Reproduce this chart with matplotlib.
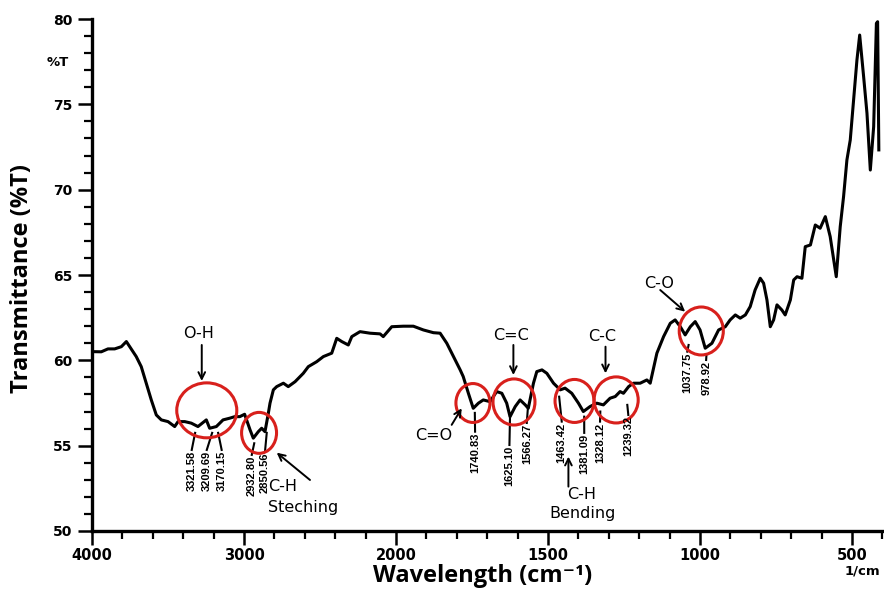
import numpy as np
import matplotlib
matplotlib.use('Agg')
import matplotlib.pyplot as plt
from matplotlib.patches import Ellipse
from matplotlib import font_manager

# FTIR spectrum (wavenumber in cm-1, %T)
wavenumber = [4000, 3939, 3895, 3851, 3807, 3774, 3752, 3709, 3676, 3643, 3610, 3577, 3544,
              3500, 3456, 3434, 3390, 3347, 3303, 3248, 3226, 3182, 3138, 3094, 3061, 3028,
              2996, 2960, 2939, 2906, 2884, 2862, 2840, 2829, 2807, 2785, 2741, 2709, 2664,
              2610, 2577, 2522, 2478, 2423, 2390, 2357, 2314, 2291, 2237, 2171, 2105, 2084,
              2028, 1976, 1943, 1910, 1877, 1855, 1833, 1811, 1789, 1779, 1762, 1746, 1729,
              1713, 1691, 1669, 1652, 1636, 1625, 1608, 1592, 1575, 1565, 1548, 1537, 1520,
              1504, 1482, 1460, 1444, 1422, 1400, 1384, 1362, 1340, 1318, 1296, 1279, 1263,
              1252, 1235, 1219, 1197, 1175, 1164, 1142, 1120, 1098, 1082, 1065, 1049, 1032,
              1016, 1000, 983, 961, 939, 917, 901, 884, 868, 851, 835, 819, 802, 791, 780,
              769, 758, 747, 731, 720, 703, 692, 681, 665, 654, 637, 621, 605, 588, 572, 552,
              539, 528, 517, 506, 495, 484, 475, 462, 451, 440, 429, 420, 416, 412]
transmittance = [60.51, 60.5, 60.67, 60.67, 60.8, 61.1, 60.8, 60.22, 59.63, 58.66, 57.68, 56.8,
                 56.51, 56.41, 56.12, 56.41, 56.41, 56.32, 56.12, 56.51, 56.02, 56.12, 56.51,
                 56.61, 56.7, 56.7, 56.84, 55.92, 55.44, 55.82, 56.02, 55.82, 56.9, 57.49, 58.27,
                 58.46, 58.66, 58.46, 58.75, 59.24, 59.63, 59.92, 60.22, 60.42, 61.29, 61.1,
                 60.9, 61.39, 61.68, 61.59, 61.55, 61.39, 61.97, 62.0, 62.0, 61.78, 61.62, 61.59,
                 61.0, 60.22, 59.44, 59.05, 58.07, 57.19, 57.49, 57.68, 57.58, 58.17, 58.07,
                 57.49, 56.7, 57.29, 57.68, 57.39, 57.19, 58.66, 59.34, 59.44, 59.24, 58.66,
                 58.27, 58.37, 58.07, 57.49, 57.0, 57.29, 57.49, 57.39, 57.78, 57.88, 58.17,
                 58.07, 58.46, 58.66, 58.66, 58.85, 58.66, 60.42, 61.39, 62.17, 62.37, 61.97,
                 61.49, 61.97, 62.27, 61.78, 60.71, 61.0, 61.78, 61.97, 62.37, 62.66, 62.47,
                 62.66, 63.15, 64.12, 64.81, 64.52, 63.54, 61.97, 62.37, 63.25, 62.95, 62.66,
                 63.54, 64.71, 64.9, 64.81, 66.66, 66.76, 67.93, 67.74, 68.42, 67.25, 64.9,
                 67.83, 69.59, 71.74, 72.91, 75.25, 77.6, 79.06, 76.62, 74.48, 71.15, 73.69,
                 79.75, 79.84, 72.33]

# peak labels
peak_wn = [3321.58, 3209.69, 3170.15, 2932.80, 2850.56, 1740.83, 1625.10, 1566.27,
           1463.42, 1381.09, 1328.12, 1239.32, 1037.75, 978.92]
peak_line_top = [55.75, 55.75, 55.75, 55.14, 55.75, 56.92, 56.7, 57.21, 57.87, 56.7, 57.0,
                 57.39, 60.9, 60.32]
label_x = [3344, 3245, 3147, 2949, 2862, 1740, 1627, 1570, 1455, 1381, 1329, 1236, 1042, 980]
label_top = [54.75, 54.75, 54.75, 54.46, 54.65, 55.82, 55.04, 56.33, 56.41, 55.75, 56.41,
             56.8, 60.51, 60.02]

# red circles around the bands
circle_wn = [3245, 2901, 1747, 1612, 1413, 1276, 996]
circle_t = [57.07, 55.75, 57.5, 57.56, 57.62, 57.68, 61.72]
circle_w = [395, 230, 112, 138, 128, 145, 145]
circle_h = [3.22, 2.4, 2.28, 2.7, 2.52, 2.7, 2.81]

# group names: (text, text pos, arrow tail, arrow head)
groups = [
    ('O-H', (3296, 61.55), (3278, 60.9), (3278, 58.79)),
    ('C=O', (1875, 55.57), (1817, 56.22), (1784, 57.19)),
    ('C=C', (1622, 61.43), (1614, 60.9), (1614, 59.14)),
    ('C-C', (1322, 61.37), (1311, 60.8), (1311, 59.24)),
    ('C-O', (1134, 64.48), (1131, 64.12), (1049, 62.85)),
]


def fwd(x):
    x = np.asarray(x, dtype=float)
    return np.where(x > 2000, 2000 + (x - 2000) / 2, x)


def inv(p):
    p = np.asarray(p, dtype=float)
    return np.where(p > 2000, 2000 + (p - 2000) * 2, p)


names = {f.name for f in font_manager.fontManager.ttflist}
label_font = 'Open Sans' if 'Open Sans' in names else 'DejaVu Sans'

fig = plt.figure(figsize=(8.84, 5.89), dpi=100)
ax = fig.add_axes([92 / 884, 1 - 531 / 589, 792 / 884, 512 / 589])
ax.set_xscale('function', functions=(fwd, inv))

ax.plot(wavenumber, transmittance, color='black', lw=2.2, solid_joinstyle='round')

ax.set_xlim(4000, 395)
ax.set_ylim(50, 80)

# ticks
major_x = [4000, 3000, 2000, 1500, 1000, 500]
minor_x = [3800, 3600, 3400, 3200, 2800, 2600, 2400, 2200] + \
          [w for w in range(1900, 399, -100) if w not in major_x]
ax.set_xticks(major_x)
ax.set_xticks(minor_x, minor=True)
ax.set_xticklabels(['4000', '3000', '2000', '1500', '1000', '500'])
ax.set_yticks(range(50, 81, 5))
ax.set_yticks(range(50, 81), minor=True)
for lbl in ax.get_xticklabels() + ax.get_yticklabels():
    lbl.set_fontweight('bold')
ax.tick_params(axis='x', which='major', length=10, width=1.8, labelsize=10.5, pad=2)
ax.tick_params(axis='y', which='major', length=10, width=1.8, labelsize=10, pad=4)
ax.tick_params(which='minor', length=6, width=1.6)

for s in ['top', 'right']:
    ax.spines[s].set_visible(False)
for s in ['left', 'bottom']:
    ax.spines[s].set_linewidth(2.4)

# circles
for cx, cy, w, h in zip(circle_wn, circle_t, circle_w, circle_h):
    ax.add_patch(Ellipse((cx, cy), w, h, fill=False, edgecolor='#d8201c', lw=2.2, zorder=3))

# peak values
for pw, pt, lx, lt in zip(peak_wn, peak_line_top, label_x, label_top):
    ax.plot([pw, lx], [pt, lt], color='black', lw=1.5)
    ax.text(lx, lt - 0.05, f'{pw:.2f}', rotation=90, ha='center', va='top',
            fontsize=8, fontweight='bold', family=['Liberation Sans', 'DejaVu Sans'])

# group labels with arrows
arrow = dict(arrowstyle='->', lw=1.4, color='black', mutation_scale=12, shrinkA=0, shrinkB=0)
for name, tpos, tail, head in groups:
    ax.text(tpos[0], tpos[1], name, ha='center', va='center', fontsize=11.5)
    ax.annotate('', xy=head, xytext=tail, arrowprops=arrow)

ax.text(2743, 52.58, 'C-H', ha='center', va='center', fontsize=11.5)
ax.text(2612, 51.35, 'Steching', ha='center', va='center', fontsize=11.5)
ax.annotate('', xy=(2785, 54.59), xytext=(2566, 52.99), arrowprops=arrow)

ax.text(1388, 52.11, 'C-H', ha='center', va='center', fontsize=11.5)
ax.text(1386, 51.0, 'Bending', ha='center', va='center', fontsize=11.5)
ax.annotate('', xy=(1433, 54.36), xytext=(1433, 52.6), arrowprops=arrow)

# axis texts
fig.text(58 / 884, 1 - 62 / 589, '%T', ha='center', va='center', fontsize=9.5, fontweight='bold')
fig.text(862 / 884, 1 - 571 / 589, '1/cm', ha='center', va='center', fontsize=9.5,
         fontweight='bold')
fig.text(22 / 884, 1 - 279 / 589, 'Transmittance (%T)', rotation=90, ha='center', va='center',
         fontsize=17, fontweight='bold', family=label_font)
fig.text(483 / 884, 1 - 576 / 589, 'Wavelength (cm\u207b\u00b9)', ha='center',
         va='center', fontsize=17, fontweight='bold', family=[label_font, 'DejaVu Sans'])

fig.savefig('out.png', dpi=100)
